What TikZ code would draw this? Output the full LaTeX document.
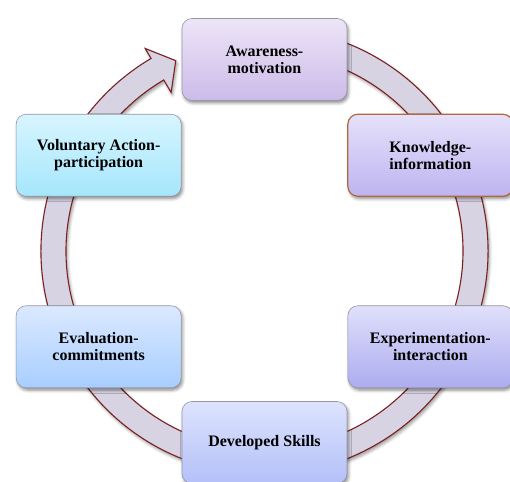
\documentclass[tikz,border=0pt]{standalone}
\usepackage{fontspec}
\setmainfont{Liberation Serif}
\usetikzlibrary{shadows.blur}

\definecolor{ringfill}{RGB}{215,211,227}
\definecolor{ringline}{RGB}{122,32,32}
\definecolor{boxline}{RGB}{150,150,165}
\definecolor{brownline}{RGB}{176,104,62}

\begin{document}
\begin{tikzpicture}[x=1pt,y=1pt,
  stagebox/.style={rounded corners=10pt, minimum width=165pt, minimum height=82pt,
    draw=boxline, line width=0.6pt, align=center, text=black,
    font=\bfseries\fontsize{16}{17}\selectfont,
    blur shadow={shadow xshift=1.5pt, shadow yshift=-2.5pt, shadow blur radius=3pt, shadow opacity=45}},
  ringarrow/.style={fill=ringfill, draw=ringline, line width=1.1pt, line join=miter,
    blur shadow={shadow xshift=1.5pt, shadow yshift=-2.5pt, shadow blur radius=3pt, shadow opacity=40}}
]
\useasboundingbox (-264.5,-230) rectangle (245.5,251);

% circular band ending in an arrowhead that points at the first stage
\path[ringarrow]
  (70:223.5) arc[start angle=70, end angle=-239.5, radius=223.5]
  -- (120.5:235) -- (115:210) -- (120.5:184) -- (120.5:198.5)
  arc[start angle=120.5, end angle=430, radius=198.5] -- cycle;

% the six stages of the cycle
\node[stagebox, top color={rgb,255:red,237;green,229;blue,247}, bottom color={rgb,255:red,204;green,187;blue,233}]
  (aware) at (90:191.5) {Awareness-\\motivation};
\node[stagebox, draw=brownline, line width=1.2pt, top color={rgb,255:red,229;green,225;blue,250}, bottom color={rgb,255:red,190;green,180;blue,240}]
  (know) at (30:191.5) {Knowledge-\\information};
\node[stagebox, top color={rgb,255:red,224;green,224;blue,251}, bottom color={rgb,255:red,172;green,172;blue,240}]
  (exper) at (-30:191.5) {Experimentation-\\interaction};
\node[stagebox, top color={rgb,255:red,221;green,227;blue,253}, bottom color={rgb,255:red,180;green,192;blue,248}]
  (skills) at (-90:191.5) {Developed Skills};
\node[stagebox, top color={rgb,255:red,219;green,233;blue,255}, bottom color={rgb,255:red,168;green,206;blue,255}]
  (eval) at (-150:191.5) {Evaluation-\\commitments};
\node[stagebox, top color={rgb,255:red,215;green,245;blue,255}, bottom color={rgb,255:red,165;green,230;blue,252}]
  (volun) at (150:191.5) {Voluntary Action-\\participation};
\end{tikzpicture}
\end{document}
